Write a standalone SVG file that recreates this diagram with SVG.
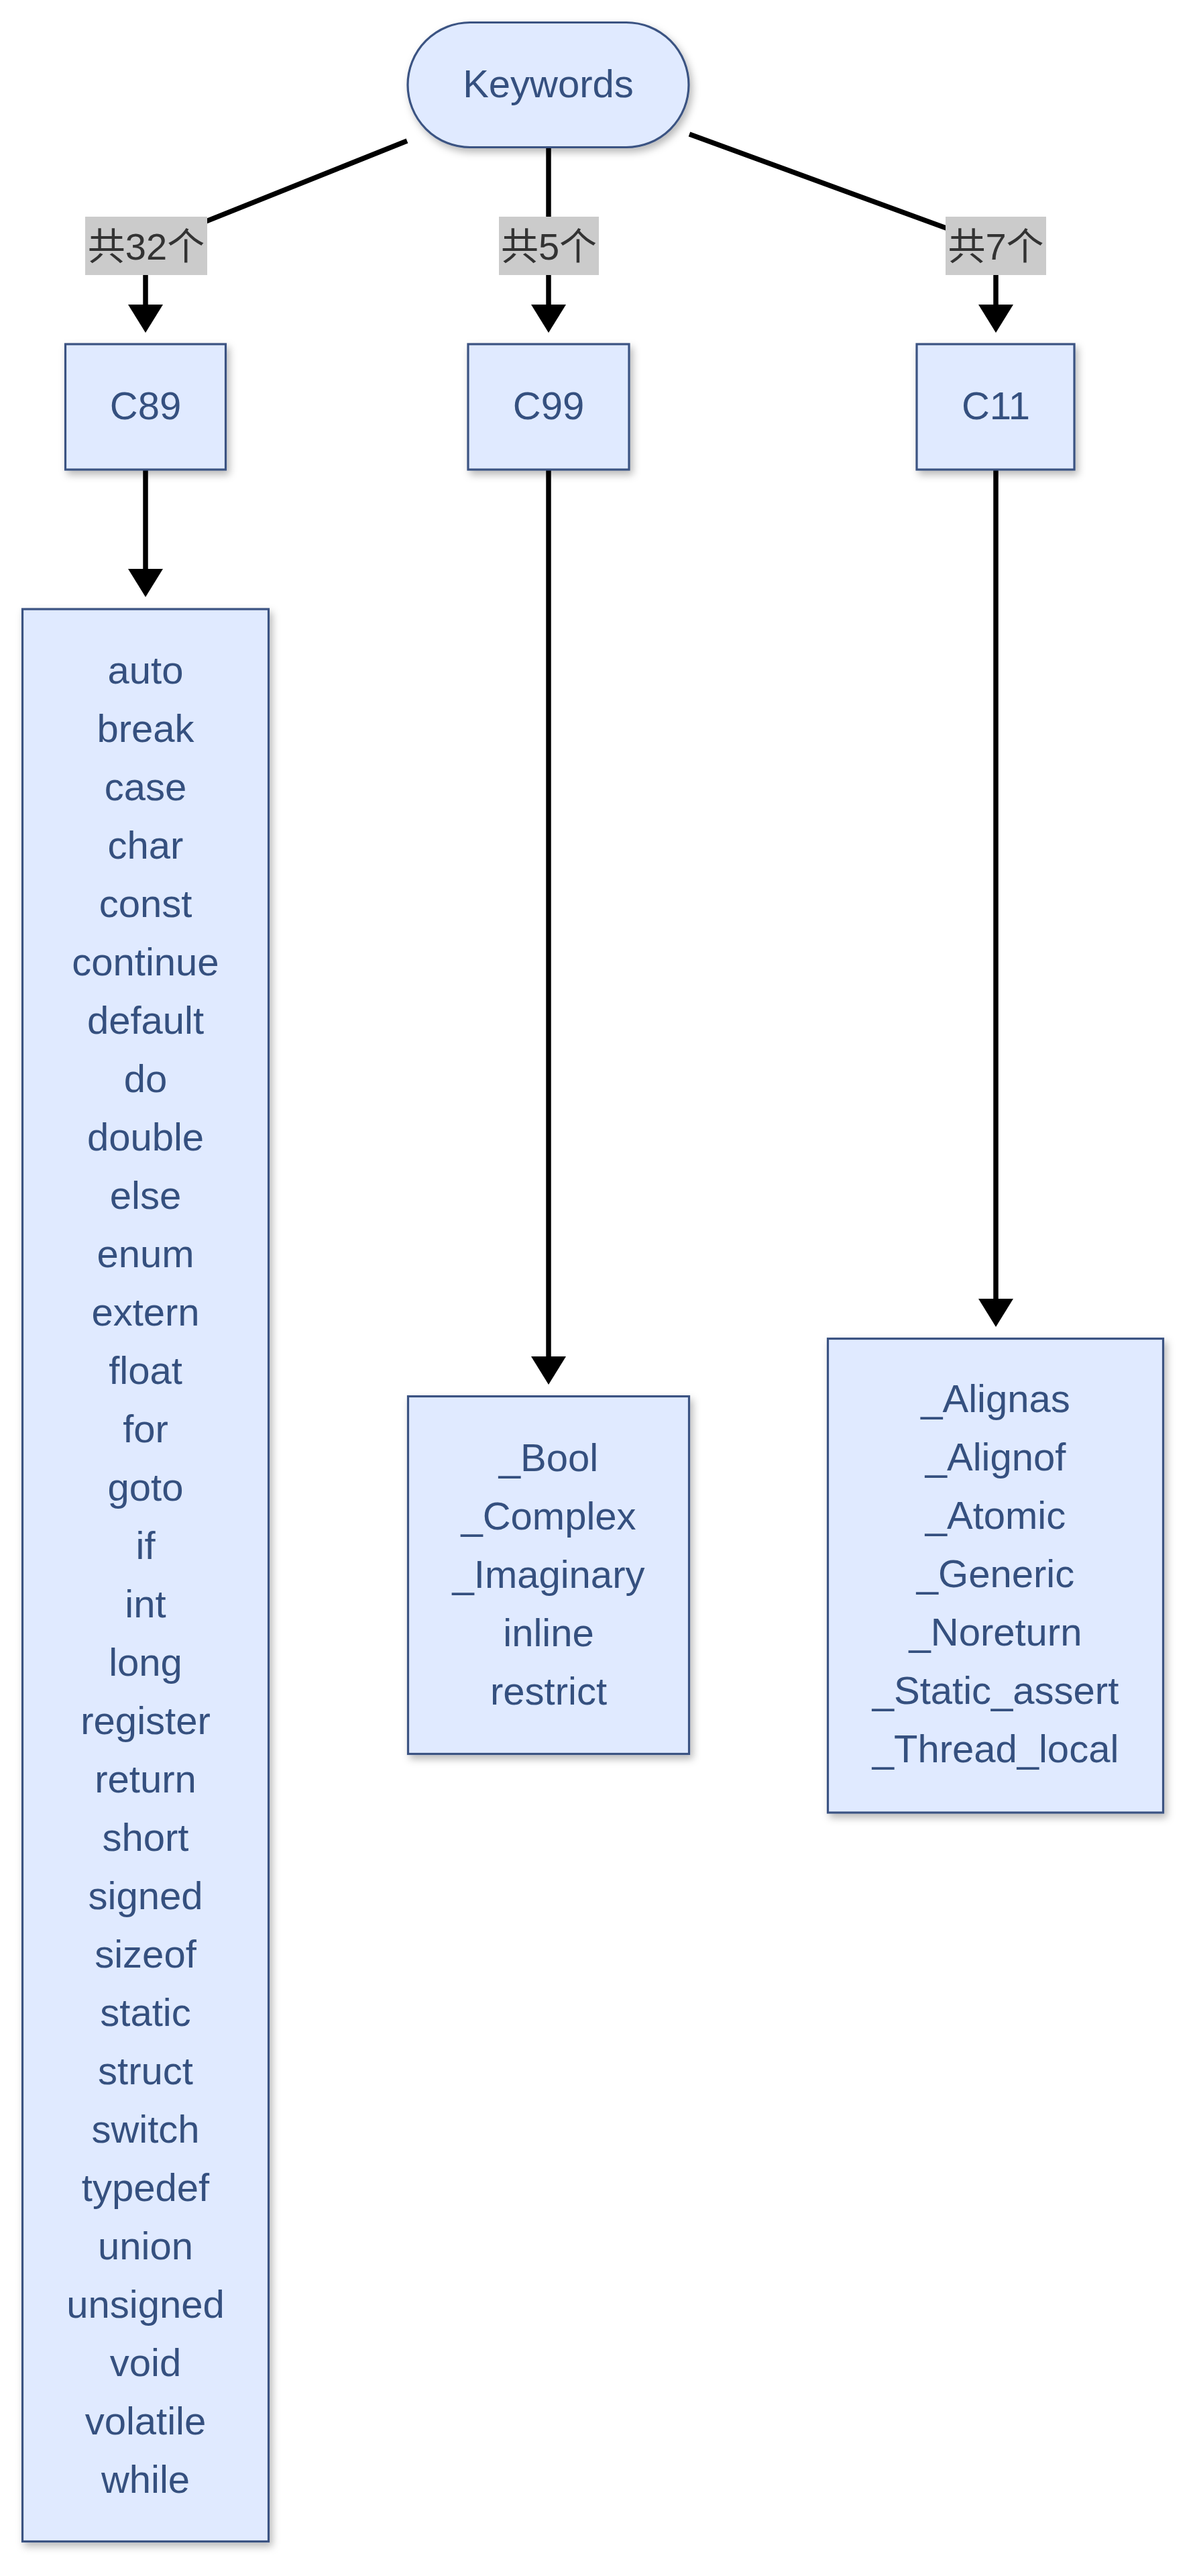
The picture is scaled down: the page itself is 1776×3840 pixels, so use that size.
<svg xmlns="http://www.w3.org/2000/svg" width="1776" height="3840" viewBox="0 0 1776 3840">
<style>
.node{fill:#e0eaff;stroke:#3a5382;stroke-width:3.2;filter:url(#sh)}
.nt{font-family:"Liberation Sans",Arial,sans-serif;font-size:58px;fill:#35507f;text-anchor:middle}
.edge{fill:none;stroke:#000;stroke-width:7.5;marker-end:url(#arr)}
.lb{fill:#cbcbcb}
.lt{font-family:"Liberation Sans","Noto Sans CJK SC",sans-serif;font-size:56px;fill:#333;text-anchor:middle}
</style>
<defs>
<filter id="sh" x="-20%" y="-20%" width="140%" height="140%">
<feDropShadow dx="4" dy="6" stdDeviation="6" flood-color="#000" flood-opacity="0.28"/>
</filter>
<marker id="arr" viewBox="0 0 42 52" refX="0" refY="26" markerWidth="42" markerHeight="52" markerUnits="userSpaceOnUse" orient="auto">
<path d="M0,0 L42,26 L0,52 Z" fill="#000"/>
</marker>
</defs>
<rect width="1776" height="3840" fill="#fff"/>
<g id="connectors">
<path class="edge" d="M607,210 L217,366 L217,454"/>
<path class="edge" d="M818,220 L818,454"/>
<path class="edge" d="M1028,200 L1485,367 L1485,454"/>
<path class="edge" d="M217,701 L217,848"/>
<path class="edge" d="M818,701 L818,2022"/>
<path class="edge" d="M1485,701 L1485,1936"/>
</g>
<g id="edge-labels">
<g id="label-c89"><rect class="lb" x="127" y="323" width="182" height="87"/><text class="lt" x="218" y="387">共32个</text></g>
<g id="label-c99"><rect class="lb" x="744" y="323" width="149" height="87"/><text class="lt" x="818.5" y="387">共5个</text></g>
<g id="label-c11"><rect class="lb" x="1410" y="323" width="150" height="87"/><text class="lt" x="1485" y="387">共7个</text></g>
</g>
<g id="keywords"><rect class="node" x="608" y="33.5" width="419" height="186" rx="93" ry="93"/><text class="nt" x="817.5" y="145">Keywords</text></g>
<g id="c89"><rect class="node" x="97.5" y="513" width="239" height="187"/><text class="nt" x="217" y="625">C89</text></g>
<g id="c99"><rect class="node" x="698" y="513" width="240" height="187"/><text class="nt" x="818" y="625">C99</text></g>
<g id="c11"><rect class="node" x="1367" y="513" width="235" height="187"/><text class="nt" x="1485" y="625">C11</text></g>
<g id="c89-list"><rect class="node" x="33.5" y="908" width="367" height="2880.5"/>
<text class="nt" x="217" y="1019">auto</text>
<text class="nt" x="217" y="1106">break</text>
<text class="nt" x="217" y="1193">case</text>
<text class="nt" x="217" y="1280">char</text>
<text class="nt" x="217" y="1367">const</text>
<text class="nt" x="217" y="1454">continue</text>
<text class="nt" x="217" y="1541">default</text>
<text class="nt" x="217" y="1628">do</text>
<text class="nt" x="217" y="1715">double</text>
<text class="nt" x="217" y="1802">else</text>
<text class="nt" x="217" y="1889">enum</text>
<text class="nt" x="217" y="1976">extern</text>
<text class="nt" x="217" y="2063">float</text>
<text class="nt" x="217" y="2150">for</text>
<text class="nt" x="217" y="2237">goto</text>
<text class="nt" x="217" y="2324">if</text>
<text class="nt" x="217" y="2411">int</text>
<text class="nt" x="217" y="2498">long</text>
<text class="nt" x="217" y="2585">register</text>
<text class="nt" x="217" y="2672">return</text>
<text class="nt" x="217" y="2759">short</text>
<text class="nt" x="217" y="2846">signed</text>
<text class="nt" x="217" y="2933">sizeof</text>
<text class="nt" x="217" y="3020">static</text>
<text class="nt" x="217" y="3107">struct</text>
<text class="nt" x="217" y="3194">switch</text>
<text class="nt" x="217" y="3281">typedef</text>
<text class="nt" x="217" y="3368">union</text>
<text class="nt" x="217" y="3455">unsigned</text>
<text class="nt" x="217" y="3542">void</text>
<text class="nt" x="217" y="3629">volatile</text>
<text class="nt" x="217" y="3716">while</text>
</g>
<g id="c99-list"><rect class="node" x="608.5" y="2081.5" width="419" height="533"/>
<text class="nt" x="818" y="2193">_Bool</text>
<text class="nt" x="818" y="2280">_Complex</text>
<text class="nt" x="818" y="2367">_Imaginary</text>
<text class="nt" x="818" y="2454">inline</text>
<text class="nt" x="818" y="2541">restrict</text>
</g>
<g id="c11-list"><rect class="node" x="1234.5" y="1995.5" width="500" height="706.5"/>
<text class="nt" x="1484.5" y="2105">_Alignas</text>
<text class="nt" x="1484.5" y="2192">_Alignof</text>
<text class="nt" x="1484.5" y="2279">_Atomic</text>
<text class="nt" x="1484.5" y="2366">_Generic</text>
<text class="nt" x="1484.5" y="2453">_Noreturn</text>
<text class="nt" x="1484.5" y="2540">_Static_assert</text>
<text class="nt" x="1484.5" y="2627">_Thread_local</text>
</g>
</svg>
